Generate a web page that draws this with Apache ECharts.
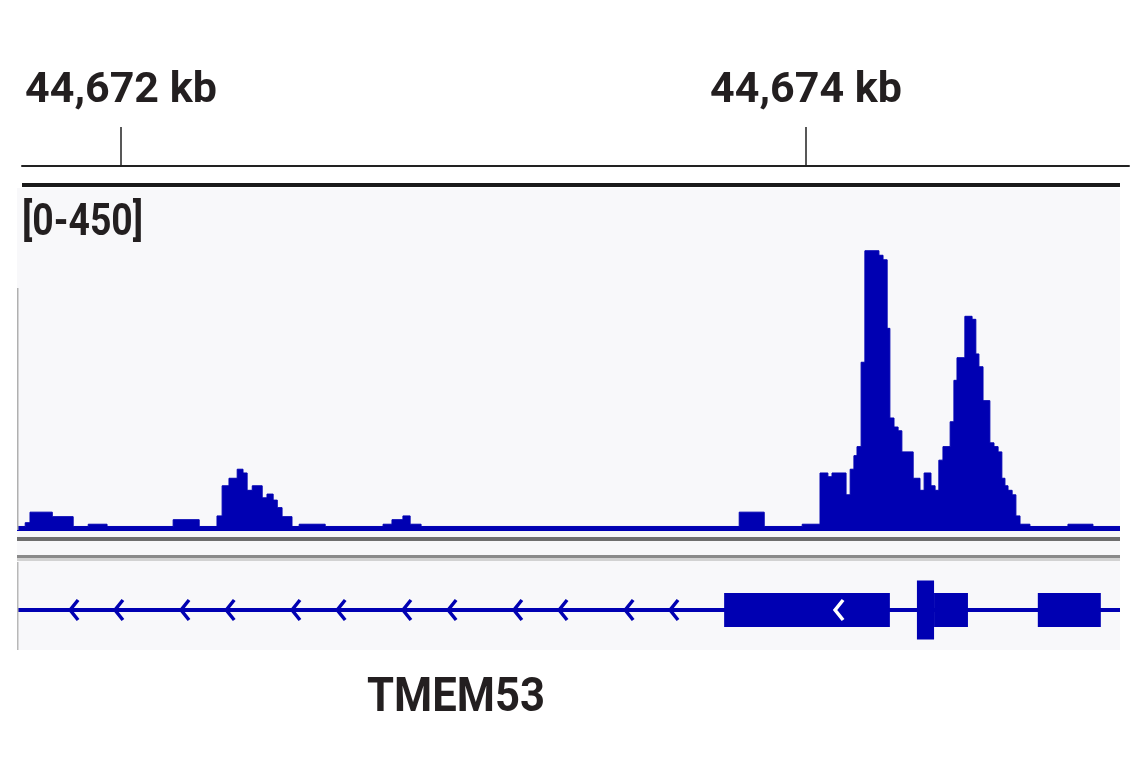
<!DOCTYPE html>
<html><head><meta charset="utf-8">
<script src="https://cdn.jsdelivr.net/npm/echarts@6/dist/echarts.min.js"></script>
<style>html,body{margin:0;padding:0;background:#fff}#c{width:1141px;height:768px}</style>
</head><body><div id="c"></div>
<script>
// ---- data ----
const viewStart = 44671696, viewEnd = 44674917;      // visible genomic window (bp)
const rulerStart = 44671711, rulerEnd = 44674943;    // ruler line extent (bp)
const rulerTicks = [44672000, 44674000];
const dataRangeLabel = '[0-450]';
const yMax = 450;
const binStarts = [
  44671696,44671720,44671734,44671799,44671860,44671904,44671959,44672152,44672228,
  44672280,44672295,44672315,44672339,44672356,44672368,44672383,44672412,44672426,
  44672444,44672456,44672470,44672499,44672520,44672596,44672765,44672791,44672823,
  44672844,44672876,44673805,44673878,44673989,44674041,44674064,44674076,44674117,
  44674129,44674140,44674149,44674161,44674172,44674213,44674225,44674237,44674245,
  44674257,44674269,44674280,44674313,44674333,44674345,44674365,44674377,44674388,
  44674400,44674421,44674432,44674441,44674464,44674485,44674496,44674505,44674517,
  44674537,44674549,44674561,44674572,44674581,44674590,44674602,44674613,44674625,
  44674654,44674765,44674838
];
const binValues = [
  6,11,25,19,6,9,6,15,6,
  20,60,70,82,77,54,60,44,49,
  41,31,19,6,9,6,9,15,20,
  9,6,25,6,9,77,72,77,48,
  82,100,112,224,372,366,360,269,150,
  138,133,105,70,54,77,60,54,94,
  112,145,200,230,285,281,235,218,173,
  117,112,105,70,60,54,48,20,9,
  6,9,6
];
const geneName = 'TMEM53';
const exonStarts = [44673761, 44674324, 44674374, 44674677];
const exonEnds   = [44674245, 44674374, 44674473, 44674861];
const exonTall   = [0, 1, 0, 0];
const chevronPositions = [
  44671851,44671982,44672175,44672307,44672499,44672631,
  44672823,44672955,44673147,44673279,44673472,44673603,44674085
];

// ---- chart ----
const BLUE = '#0000b2';
const histData = binStarts.map((s, i) => [s, binValues[i]]);
histData.push([viewEnd, binValues[binValues.length - 1]]);
const exonData = exonStarts.map((s, i) => [s, exonEnds[i], exonTall[i]]);
const inExon = p => exonStarts.some((s, i) => p >= s && p <= exonEnds[i]);
const chevronData = chevronPositions.map(p => [p, inExon(p) ? 1 : 0]);

const chart = echarts.init(document.getElementById('c'));
chart.setOption({
  animation: false,
  backgroundColor: '#ffffff',
  graphic: [
    {type: 'rect', z: 0, shape: {x: 17, y: 188, width: 1103, height: 367}, style: {fill: '#f8f8fa'}},
    {type: 'rect', z: 0, shape: {x: 17, y: 561, width: 1103, height: 89}, style: {fill: '#f8f8fa'}},
    {type: 'rect', z: 10, shape: {x: 22, y: 183, width: 1098, height: 4}, style: {fill: '#1a1a1a'}},
    {type: 'rect', z: 10, shape: {x: 17, y: 537, width: 1103, height: 4}, style: {fill: '#6f6f6f'}},
    {type: 'rect', z: 10, shape: {x: 17, y: 555, width: 1103, height: 3}, style: {fill: '#8a8a8a'}},
    {type: 'rect', z: 10, shape: {x: 17, y: 558, width: 1103, height: 3}, style: {fill: '#d2d2d2'}},
    {type: 'rect', z: 10, shape: {x: 17, y: 288, width: 1.5, height: 242}, style: {fill: '#b0b0b0'}},
    {type: 'rect', z: 10, shape: {x: 17, y: 562, width: 1.5, height: 88}, style: {fill: '#b8b8b8'}},
    {type: 'text', z: 20, x: 22, y: 224, scaleX: 0.83,
     style: {text: dataRangeLabel, x: 0, y: 0, fill: '#231f20', font: 'bold 45px Roboto', verticalAlign: 'middle'}},
    {type: 'text', z: 20, x: 456, y: 699, scaleX: 0.89,
     style: {text: geneName, x: 0, y: 0, fill: '#231f20', font: 'bold 49px Roboto', align: 'center', verticalAlign: 'middle'}}
  ],
  grid: [
    {left: 22, right: 12, top: 100, height: 66},
    {left: 17, right: 21, top: 192, height: 339},
    {left: 17, right: 21, top: 570, height: 80}
  ],
  xAxis: [
    {gridIndex: 0, type: 'value', min: rulerStart, max: rulerEnd,
     axisLine: {show: true, lineStyle: {color: '#222', width: 2}},
     axisTick: {show: true, inside: true, length: 39, customValues: rulerTicks, lineStyle: {color: '#222', width: 1.5}},
     axisLabel: {show: true, inside: true, customValues: rulerTicks, margin: 53,
       formatter: v => (v / 1000).toLocaleString('en-US') + ' kb',
       fontFamily: 'Roboto', fontWeight: 'bold', fontSize: 43, color: '#231f20'},
     splitLine: {show: false}},
    {gridIndex: 1, type: 'value', min: viewStart, max: viewEnd, show: false},
    {gridIndex: 2, type: 'value', min: viewStart, max: viewEnd, show: false}
  ],
  yAxis: [
    {gridIndex: 0, type: 'value', min: 0, max: 1, show: false},
    {gridIndex: 1, type: 'value', min: 0, max: yMax, show: false},
    {gridIndex: 2, type: 'value', min: -1, max: 1, show: false}
  ],
  series: [
    {type: 'line', xAxisIndex: 1, yAxisIndex: 1, data: histData, step: 'end', symbol: 'none',
     lineStyle: {color: BLUE, width: 1}, areaStyle: {color: BLUE, opacity: 1}, clip: true, z: 5},
    {type: 'line', xAxisIndex: 2, yAxisIndex: 2, data: [[viewStart, 0], [viewEnd, 0]], symbol: 'none',
     lineStyle: {color: BLUE, width: 4, cap: 'butt'}, clip: true, z: 5},
    {type: 'custom', xAxisIndex: 2, yAxisIndex: 2, data: exonData, z: 6,
     renderItem: (params, api) => {
       const a = api.coord([api.value(0), 0]);
       const b = api.coord([api.value(1), 0]);
       const h = api.value(2) ? 59 : 34;
       return {type: 'rect', shape: {x: a[0], y: a[1] - h / 2, width: b[0] - a[0], height: h}, style: {fill: BLUE}};
     }},
    {type: 'custom', xAxisIndex: 2, yAxisIndex: 2, data: chevronData, z: 7,
     renderItem: (params, api) => {
       const p = api.coord([api.value(0), 0]);
       return {type: 'polyline', shape: {points: [[p[0] + 8, p[1] - 10], [p[0], p[1]], [p[0] + 8, p[1] + 10]]},
               style: {stroke: api.value(1) ? '#ffffff' : BLUE, lineWidth: 3.5, fill: null}};
     }}
  ]
});
</script>
</body></html>
